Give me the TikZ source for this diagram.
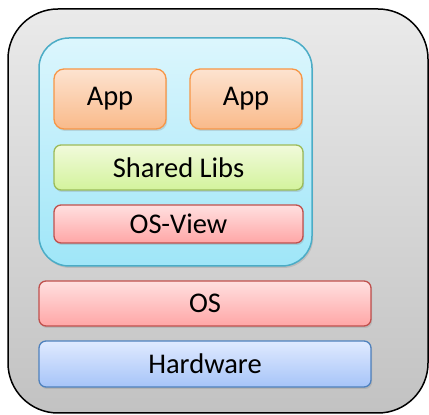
\documentclass[tikz,border=0pt]{standalone}
\usepackage{fontspec}
\setmainfont{Carlito}
\usetikzlibrary{shadows}
\definecolor{outtop}{HTML}{EAEAEA}
\definecolor{outbot}{HTML}{C2C2C2}
\definecolor{cytop}{HTML}{DCF6FD}
\definecolor{cybot}{HTML}{9FE6F8}
\definecolor{cyline}{HTML}{4BACC6}
\definecolor{ortop}{HTML}{FDE3D0}
\definecolor{orbot}{HTML}{F9BA8A}
\definecolor{orline}{HTML}{F79646}
\definecolor{grtop}{HTML}{F1FADB}
\definecolor{grbot}{HTML}{D3F39C}
\definecolor{grline}{HTML}{9BBB59}
\definecolor{rdtop}{HTML}{FFE0E0}
\definecolor{rdbot}{HTML}{FFA6A6}
\definecolor{rdline}{HTML}{C0504D}
\definecolor{bltop}{HTML}{E0EAFF}
\definecolor{blbot}{HTML}{A6C4F8}
\definecolor{blline}{HTML}{4F81BD}
\tikzset{
  x=1pt,y=1pt,
  layer/.style={draw, line width=1.3pt, rounded corners=7pt, inner sep=0pt,
    font=\fontsize{28.5}{30}\selectfont, text=black,
    drop shadow={shadow xshift=1.2pt, shadow yshift=-2pt, opacity=0.25}},
  appbox/.style={layer, draw=orline, top color=ortop, bottom color=orbot,
    rounded corners=10pt, minimum width=112pt, minimum height=60pt},
  libbox/.style={layer, draw=grline, top color=grtop, bottom color=grbot,
    minimum width=249pt, minimum height=45pt},
  redbox/.style={layer, draw=rdline, top color=rdtop, bottom color=rdbot},
  hwbox/.style={layer, draw=blline, top color=bltop, bottom color=blbot},
}
\begin{document}
\begin{tikzpicture}
\useasboundingbox (0,0) rectangle (429,415);
\node[draw=black, line width=1.5pt, rounded corners=50pt, top color=outtop, bottom color=outbot,
  minimum width=420pt, minimum height=404pt, inner sep=0pt] (host) at (218,204) {};
\node[draw=cyline, line width=1.5pt, rounded corners=30pt, top color=cytop, bottom color=cybot,
  minimum width=273pt, minimum height=228pt, inner sep=0pt,
  drop shadow={shadow xshift=1.2pt, shadow yshift=-2pt, opacity=0.25}] (guest) at (175.5,263) {};
\node[appbox] (app1) at (110,316) {App};
\node[appbox] (app2) at (246,316) {App};
\node[libbox] (libs) at (178.5,247.5) {Shared Libs};
\node[redbox, minimum width=249pt, minimum height=38pt] (osview) at (178.5,191) {OS-View};
\node[redbox, minimum width=332pt, minimum height=45pt] (os) at (205,111.5) {OS};
\node[hwbox, minimum width=332pt, minimum height=46pt] (hw) at (205,51) {Hardware};
\end{tikzpicture}
\end{document}
